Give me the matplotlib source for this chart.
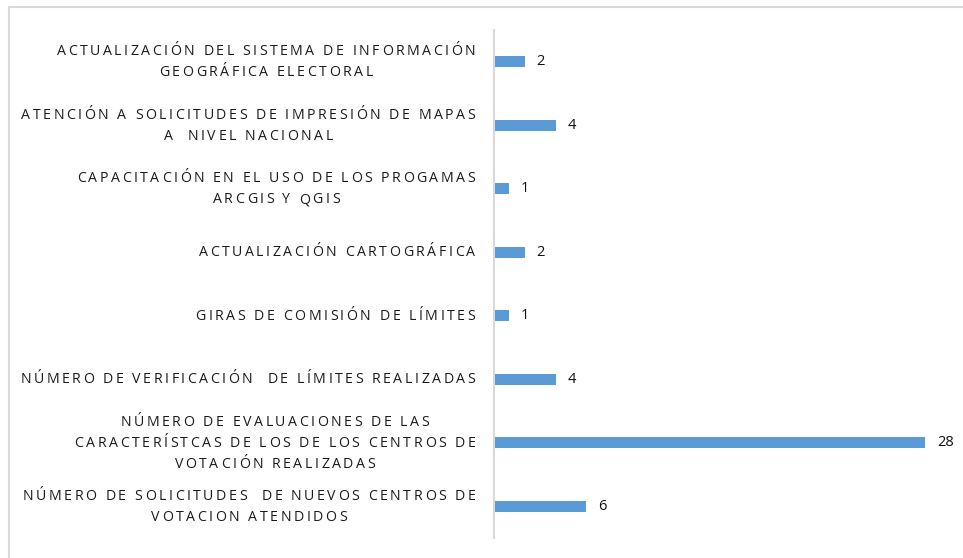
import matplotlib
matplotlib.use("Agg")
import matplotlib.pyplot as plt
import matplotlib.transforms as mtransforms
from matplotlib.font_manager import FontProperties
from matplotlib.textpath import TextToPath
from matplotlib.lines import Line2D

# categories from top to bottom
labels = [
    "ACTUALIZACIÓN DEL SISTEMA DE INFORMACIÓN\nGEOGRÁFICA ELECTORAL",
    "ATENCIÓN A SOLICITUDES DE IMPRESIÓN DE MAPAS\nA  NIVEL NACIONAL",
    "CAPACITACIÓN EN EL USO DE LOS PROGAMAS\nARCGIS Y QGIS",
    "ACTUALIZACIÓN CARTOGRÁFICA",
    "GIRAS DE COMISIÓN DE LÍMITES",
    "NÚMERO DE VERIFICACIÓN  DE LÍMITES REALIZADAS",
    "NÚMERO DE EVALUACIONES DE LAS\nCARACTERÍSTCAS DE LOS DE LOS CENTROS DE\nVOTACIÓN REALIZADAS",
    "NÚMERO DE SOLICITUDES  DE NUEVOS CENTROS DE\nVOTACION ATENDIDOS",
]
values = [2, 4, 1, 2, 1, 4, 28, 6]

bar_color = "#5B9BD5"
grey = "#D9D9D9"
font = "Open Sans"
size = 10.2
tracking = 1.8       # extra space between letters, points
line_step = 15.1     # distance between label lines, points
right_pad = 13.5     # gap between text and axis line, points

fig = plt.figure(figsize=(9.63, 5.58), dpi=100)
ax = fig.add_axes([494 / 963, 1 - 538 / 558, 462 / 963, 508 / 558])

pos = list(range(len(labels)))
ax.barh(pos, values, height=0.18, color=bar_color)
ax.set_ylim(len(labels) - 0.5, -0.5)
ax.set_xlim(0, 30)

for p, v in zip(pos, values):
    ax.text(v + 0.75, p, str(v), va="center", ha="left", fontsize=10.5,
            family=font, color="#111111")

# category labels drawn letter by letter to get the wide letter spacing
prop = FontProperties(family=font, size=size)
ttp = TextToPath()
cap = ttp.get_text_width_height_descent("H", prop, ismath=False)[1]
base = ax.get_yaxis_transform()


def char_w(ch):
    return ttp.get_text_width_height_descent(ch, prop, ismath=False)[0]


for p, lab in zip(pos, labels):
    lines = lab.split("\n")
    widths = [sum(char_w(c) for c in ln) + tracking * (len(ln) - 1) for ln in lines]
    centre = -right_pad - max(widths) / 2
    n = len(lines)
    for i, (ln, w) in enumerate(zip(lines, widths)):
        x = centre - w / 2
        y = ((n - 1) / 2 - i) * line_step - cap / 2 + 0.8
        for ch in ln:
            if ch != " ":
                off = mtransforms.ScaledTranslation(x / 72, y / 72, fig.dpi_scale_trans)
                ax.text(0, p, ch, transform=base + off, ha="left", va="baseline",
                        fontproperties=prop, color="#1a1a1a", clip_on=False)
            x += char_w(ch) + tracking

ax.set_yticks([])
ax.set_xticks([])
for s in ["top", "right", "bottom"]:
    ax.spines[s].set_visible(False)
ax.spines["left"].set_color(grey)
ax.spines["left"].set_linewidth(1.5)

# light frame of the chart area
fig.add_artist(Line2D([9 / 963, 1], [1 - 7 / 558] * 2, color=grey, lw=1.5))
fig.add_artist(Line2D([9 / 963] * 2, [0, 1 - 7 / 558], color=grey, lw=1.5))

fig.savefig("out.png", dpi=100)
